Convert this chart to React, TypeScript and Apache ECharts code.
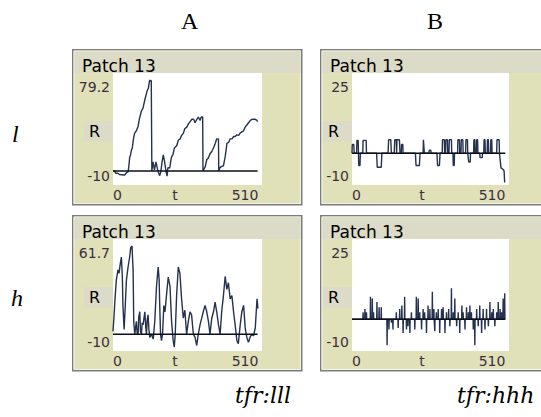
import React, { useEffect, useRef } from "react";
import * as echarts from "echarts";

// ---------- texts ----------
const columnLabels = ["A", "B"];
const rowLabels = ["l", "h"];
const footerLabels = ["tfr:lll", "tfr:hhh"];
const panelTitle = "Patch 13";
const yAxisName = "R";
const xAxisName = "t";

// ---------- ticks ----------
const xTicks = [0, 510];
const yTicksAl = [-10, 79.2];
const yTicksBl = [-10, 25];
const yTicksAh = [-10, 61.7];
const yTicksBh = [-10, 25];

// ---------- data: [t, R] ----------
const seriesAl: number[][] = [
  [0, 0], [6, 0], [9, -2], [17, -2], [22, -3], [40, -3.5], [46, -1.5], [52, -0.5], [55, 6], [57, 12],
  [60, 14], [63, 18], [66, 20], [70, 28], [74, 33], [80, 35], [86, 39], [90, 45], [97, 52], [103, 55],
  [109, 62], [113, 66], [117, 70], [121, 72], [124, 77], [126, 79.2], [129, 78], [131, 79], [133, 0],
  [137, 8], [142, 1], [147, 8], [152, 2], [155, -1], [160, -4], [164, 0], [168, 8], [172, 14], [176, 9],
  [180, 2], [183, -2], [185, -4.5], [188, 3], [194, 2.5], [200, 12], [205, 14], [210, 20], [218, 22],
  [224, 27], [230, 28], [235, 31], [241, 33], [246, 37], [252, 38], [258, 41], [264, 43], [270, 45],
  [276, 45], [281, 42], [287, 45], [292, 47], [298, 44], [302, 47], [307, 47], [308, 0], [312, 2],
  [316, 4], [321, 10], [326, 11], [332, 15], [338, 17], [344, 20], [350, 24], [355, 28], [361, 28],
  [362, 0], [366, 3], [372, 4], [378, 4.5], [384, 12.5], [388, 20], [390, 24], [396, 25], [401, 28],
  [407, 28], [413, 30], [418, 30], [424, 31.5], [430, 31], [435, 33], [441, 34], [447, 35], [452, 38],
  [458, 40], [464, 42], [470, 44], [476, 45], [481, 45], [487, 45], [493, 44], [495, 43],
];

const seriesAh: number[][] = [
  [0, 2], [3, 11], [7, 25], [11.5, 38], [17, 45], [20.6, 42.6], [25, 49.4], [28.7, 54], [32, 40], [34, 20],
  [38, 3.4], [41, 15.7], [46, 38], [51.6, 47], [57, 54], [60.7, 60.6], [65, 61.7], [68.8, 45], [71, 9],
  [74.5, 0], [80, 9], [83, 0], [86, 0], [88, 12], [91.7, 15.7], [94, 2], [97.4, 0], [100, 8], [103, 6.7],
  [109, 15.7], [112, 5], [114.6, 0], [117, 10], [120, 13.5], [123, 3], [126, -2.2], [132, 0], [137.5, -3.4],
  [143, 9], [149, 33.7], [154.7, 47], [158, 38], [160, 20], [162.7, 0], [166, -4.5], [169.6, 0], [174, 20],
  [178, 15.7], [183, 27], [189, 40], [195, 33.7], [200.5, 9], [206, -4.5], [209.7, -9], [213, 0],
  [217.7, 27], [223.5, 47], [229, 42.6], [234.8, 24.7], [240.6, 11.2], [246, 16.8], [252, 0], [257.8, 9],
  [263.5, 15.7], [269, 13.5], [275, 0], [281, -2.2], [286.5, -7.9], [292, 0], [298, 6.7], [303.6, 11.2],
  [309, 15.7], [315, 20.2], [321, 15.7], [326.6, 9], [332, 0], [338, 11.2], [344, 15.7], [349.5, 22.4],
  [355, 15.7], [361, 6.7], [366.7, 0], [372, 15.7], [378, 27], [384, 40.4], [389.6, 31.4], [395, 36],
  [401, 24.7], [407, 27], [412.6, 15.7], [418, 6.7], [424, -4.5], [429, -6.7], [435.5, 6.7], [441, 15.7],
  [447, 20.2], [452.5, 4.5], [458, -2.2], [463.6, -5.6], [469, -2.2], [475, 0], [481, -1.1], [487, 4.5],
  [493, 24.7], [496, 18],
];

const seriesBl: number[][] = [
  [0, 0], [1, 3], [6, 3], [7, 0], [15, 0], [16, 4.4], [20, 4.4], [21, 0], [22, -4.2], [26, -4.2], [27, 0],
  [35, 0], [36, 4.4], [46, 4.4], [47, 0], [80, 0], [82, -4.8], [95, -4.8], [97, 0], [117, 0], [119, 4.6],
  [126, 4.6], [128, 0], [137, 0], [139, 4.6], [144, 4.6], [145, 0], [146, 4.6], [154, 4.6], [156, 0],
  [160, 0], [161, 3], [165, 3], [166, 0], [206, 0], [208, -4.2], [219, -4.2], [221, 0], [231, 0],
  [232, 4.6], [234, 4.6], [235, 0], [250, 0], [251, 1], [256, 1], [257, 0], [276, 0], [278, -4.2],
  [284, -4.2], [286, 0], [293, 0], [294, 4.6], [300, 4.6], [301, 0], [304, 0], [305, 4.6], [310, 4.6],
  [311, 0], [315, 0], [316, 4.6], [323, 4.6], [324, 0], [328, 0], [329, -4.2], [332, -4.2], [333, 0],
  [343, 0], [344, 4.6], [349, 4.6], [350, 0], [354, 0], [355, 4.6], [360, 4.6], [361, 0], [369, 0],
  [370, 4.6], [375, 4.6], [376, 0], [378, 0], [379, -3], [384, -3], [385, 0], [395, 0], [396, 4.6],
  [399, 4.6], [400, 0], [404, 0], [405, 4.6], [408, 4.6], [409, 0], [415, 0], [416, -1.5], [423, -1.5],
  [424, 0], [428, 0], [429, 4.6], [432, 4.6], [433, 0], [439, 0], [440, 4.6], [443, 4.6], [444, 0],
  [450, 0], [451, 4.6], [454, 4.6], [455, 0], [470, 0], [471, 4.6], [478, 4.6], [479, 0], [484, -5],
  [490, -5.5], [494, -6], [496, -10],
];

// B / h : the trace sits on 0 with single-step spikes
const bhSpikeT = [
  36, 42, 47, 60, 66, 70, 81, 88, 95, 114, 120, 128, 133, 144, 150, 155, 162, 166, 171, 177, 182, 188, 193,
  204, 209, 215, 220, 226, 231, 236, 242, 247, 253, 261, 266, 269, 274, 280, 285, 291, 296, 302, 307, 314,
  318, 323, 329, 334, 340, 345, 350, 357, 361, 367, 372, 378, 383, 388, 394, 399, 405, 410, 415, 421, 426,
  432, 437, 443, 448, 454, 459, 464, 470, 475, 481, 486, 491, 496,
];
const bhSpikeV = [
  2.4, 3.5, 2.4, 7.7, 7.1, 2.4, 5.9, 4.1, 4.1, -8.9, -3.5, -1.2, -3.5, 2.4, -3, 3.5, 4.7, -4.7, 7.7, -3.5,
  -2.4, -4.7, 2.4, -3.5, 7.7, 7.1, 2.4, -3.5, 3.5, 2.4, -4.7, 4.7, 3.5, 9.4, 3.5, -4.1, 2.4, 3.5, -4.7, 3.5,
  4.1, -4.7, 2.4, 3.5, -2.4, 10.6, 2.4, 7.1, -2.4, 2.4, -4.7, 4.7, 2.4, -3.5, 4.1, 2.4, 4.7, 2.4, -3.5,
  -8.9, 3.5, -2.4, 4.7, -4.7, 3.5, -3.5, 3.5, -2.4, 5.9, 2.4, 3.5, -2.4, 2.4, 5.9, 3.5, 2.4, 7.1, 8.9,
];
const seriesBh: number[][] = [
  [0, 0],
  ...bhSpikeT.flatMap((t, i) => [[t - 0.8, 0], [t, bhSpikeV[i]], [t + 0.8, 0]]),
  [499, 0],
];

const zeroLineA: number[][] = [[0, 0], [495, 0]];
const zeroLineB: number[][] = [[0, 0], [498, 0]];

// ---------- styling / layout ----------
const W = 541;
const H = 417;
const SANS = '"DejaVu Sans", Verdana, sans-serif';
const TICK_COLOR = "#3b2f40";
const LINE_COLOR = "#24314f";
const OLIVE = "#e0e0b9";
const BAND = "#dcdbc7";

type Panel = {
  data: number[][];
  zero: number[][];
  yTicks: number[];
  fx: number;
  fy: number;
  pl: number;
  pr: number;
  tShift: number;
};

const panels: Panel[] = [
  { data: seriesAl, zero: zeroLineA, yTicks: yTicksAl, fx: 72, fy: 49, pl: 113, pr: 262, tShift: 25 },
  { data: seriesBl, zero: zeroLineB, yTicks: yTicksBl, fx: 320, fy: 49, pl: 352, pr: 509, tShift: 17 },
  { data: seriesAh, zero: zeroLineA, yTicks: yTicksAh, fx: 72, fy: 215, pl: 113, pr: 262, tShift: 25 },
  { data: seriesBh, zero: zeroLineB, yTicks: yTicksBh, fx: 320, fy: 215, pl: 352, pr: 509, tShift: 17 },
];

const tickFont = { fontFamily: SANS, fontSize: 14, color: TICK_COLOR };

function buildOption() {
  const grid: any[] = [];
  const xAxis: any[] = [];
  const yAxis: any[] = [];
  const series: any[] = [];
  const graphics: any[] = [];
  const titles: any[] = [];

  panels.forEach((p, i) => {
    // panel decoration
    graphics.push(
      { type: "rect", z: -10, shape: { x: p.fx + 0.75, y: p.fy + 0.75, width: 229, height: 155 }, style: { fill: OLIVE, stroke: "#7c7c7c", lineWidth: 1.5 } },
      { type: "rect", z: -9, shape: { x: p.fx + 2, y: p.fy + 2, width: 226.5, height: 152.5 }, style: { fill: "none", stroke: "#f3f3ea", lineWidth: 1 } },
      { type: "rect", z: -8, shape: { x: p.fx + 2.5, y: p.fy + 2.5, width: 226, height: 21.5 }, style: { fill: BAND } },
      { type: "rect", z: -8, shape: { x: p.pl, y: p.fy + 24, width: p.pr - p.pl, height: 112 }, style: { fill: "#ffffff" } }
    );
    titles.push({
      text: panelTitle,
      left: p.fx + 10,
      top: p.fy + 8,
      padding: 0,
      textStyle: { fontFamily: SANS, fontSize: 17, fontWeight: "normal", color: "#000", lineHeight: 17 },
    });

    grid.push({ left: p.pl, top: p.fy + 31, width: p.pr - p.pl, height: 102.5, containLabel: false });
    xAxis.push({
      type: "value",
      gridIndex: i,
      min: xTicks[0],
      max: xTicks[1],
      splitLine: { show: false },
      axisLine: { show: false },
      axisTick: { show: false },
      axisLabel: {
        customValues: xTicks,
        margin: 5,
        formatter: (v: number) => (v === xTicks[0] ? `{lo|${v}}` : `{hi|${v}}`),
        rich: {
          lo: { ...tickFont, padding: [0, 0, 0, 9] },
          hi: { ...tickFont, padding: [0, 34, 0, 0] },
        },
        ...tickFont,
      },
      name: xAxisName,
      nameLocation: "middle",
      nameGap: 5,
      nameMoveOverlap: false,
      nameTextStyle: { ...tickFont, padding: [0, p.tShift, 0, 0] },
    });
    yAxis.push({
      type: "value",
      gridIndex: i,
      min: p.yTicks[0],
      max: p.yTicks[1],
      splitLine: { show: false },
      axisLine: { show: false },
      axisTick: { show: false },
      axisLabel: {
        customValues: p.yTicks,
        margin: 3,
        formatter: (v: number) => (v === p.yTicks[1] ? `{hi|${v}}` : `{lo|${v}}`),
        rich: {
          hi: { ...tickFont, padding: [13, 0, 0, 0] },
          lo: { ...tickFont, padding: [0, 0, 13, 0] },
        },
        ...tickFont,
      },
      name: yAxisName,
      nameLocation: "middle",
      nameRotate: 0,
      nameGap: 0,
      nameMoveOverlap: false,
      nameTextStyle: {
        fontFamily: SANS,
        fontSize: 16,
        lineHeight: 16,
        color: "#000",
        backgroundColor: BAND,
        padding: [2, 13, 2, 5],
      },
    });
    series.push(
      {
        type: "line",
        xAxisIndex: i,
        yAxisIndex: i,
        data: p.data,
        showSymbol: false,
        symbol: "none",
        lineStyle: { color: LINE_COLOR, width: 1.4 },
        z: 3,
      },
      {
        type: "line",
        xAxisIndex: i,
        yAxisIndex: i,
        data: p.zero,
        showSymbol: false,
        symbol: "none",
        lineStyle: { color: "#0b0f1a", width: 1.6 },
        z: 4,
      }
    );
  });

  const serif = '"Liberation Serif", "Times New Roman", serif';
  titles.push(
    { text: columnLabels[0], left: 181, top: 9, padding: 0, textStyle: { fontFamily: serif, fontSize: 24, fontWeight: "normal", color: "#000" } },
    { text: columnLabels[1], left: 427, top: 9, padding: 0, textStyle: { fontFamily: serif, fontSize: 24, fontWeight: "normal", color: "#000" } },
    { text: rowLabels[0], left: 12, top: 122, padding: 0, textStyle: { fontFamily: serif, fontSize: 24, fontStyle: "italic", fontWeight: "normal", color: "#000" } },
    { text: rowLabels[1], left: 11, top: 286, padding: 0, textStyle: { fontFamily: serif, fontSize: 24, fontStyle: "italic", fontWeight: "normal", color: "#000" } },
    { text: footerLabels[0], left: 235, top: 384, padding: 0, textStyle: { fontFamily: '"DejaVu Serif", serif', fontSize: 22, fontStyle: "italic", fontWeight: "normal", color: "#000" } },
    { text: footerLabels[1], left: 457, top: 384, padding: 0, textStyle: { fontFamily: '"DejaVu Serif", serif', fontSize: 22, fontStyle: "italic", fontWeight: "normal", color: "#000" } }
  );

  return {
    animation: false,
    backgroundColor: "#ffffff",
    title: titles,
    graphic: { elements: graphics },
    grid,
    xAxis,
    yAxis,
    series,
  };
}

export default function App() {
  const ref = useRef<HTMLDivElement>(null);
  useEffect(() => {
    document.body.style.margin = "0";
    const chart = echarts.init(ref.current!, null, { renderer: "svg", width: W, height: H });
    chart.setOption(buildOption() as any);
    return () => chart.dispose();
  }, []);
  return <div ref={ref} style={{ width: W, height: H }} />;
}
